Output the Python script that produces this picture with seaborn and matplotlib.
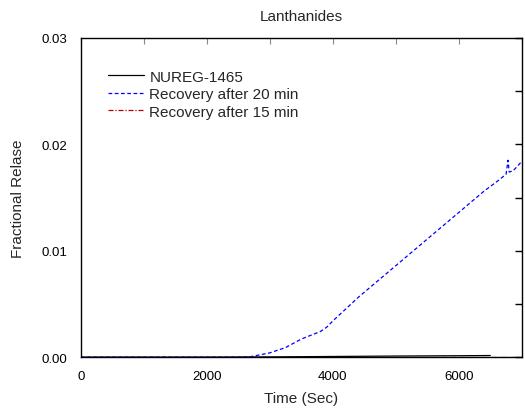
import matplotlib
matplotlib.use("Agg")
import matplotlib.pyplot as plt
import seaborn as sns
from matplotlib.ticker import MultipleLocator, FormatStrFormatter

sns.set_theme(style="white")
plt.rcParams['font.family'] = ['Liberation Sans', 'DejaVu Sans']

# Data
nureg_t = [0, 1000, 2000, 3000, 4000, 5000, 6000, 6500]
nureg_y = [0.0, 0.0, 0.0, 0.00002, 0.00006, 0.0001, 0.00013, 0.00015]

rec20_t = [0, 2500, 2700, 3000, 3250, 3500, 3800, 3900, 4000, 4400, 4800, 5200,
           5600, 6000, 6400, 6650, 6750, 6780, 6800, 6860, 7000]
rec20_y = [0.0, 0.0, 0.00005, 0.0004, 0.0009, 0.0017, 0.0024, 0.0028, 0.0034,
           0.0056, 0.0076, 0.0096, 0.0116, 0.0136, 0.0156, 0.0167, 0.0172,
           0.0185, 0.0174, 0.0175, 0.0184]

rec15_t = [0, 7000]
rec15_y = [0.0, 0.0]

fig = plt.figure(figsize=(5.25, 4.14), dpi=100)
ax = fig.add_axes([0.154, 0.135, 0.840, 0.771])

sns.lineplot(x=nureg_t, y=nureg_y, ax=ax, color="black", lw=0.9, label="NUREG-1465")
sns.lineplot(x=rec20_t, y=rec20_y, ax=ax, color="blue", lw=0.9, linestyle=(0, (3, 2)),
             label="Recovery after 20 min")
sns.lineplot(x=rec15_t, y=rec15_y, ax=ax, color="#b00000", lw=0.9,
             linestyle=(0, (4, 1.5, 1, 1.5)), label="Recovery after 15 min")

ax.set_xlim(0, 7000)
ax.set_ylim(0, 0.03)
ax.xaxis.set_major_locator(MultipleLocator(2000))
ax.xaxis.set_minor_locator(MultipleLocator(1000))
ax.yaxis.set_major_locator(MultipleLocator(0.01))
ax.yaxis.set_minor_locator(MultipleLocator(0.005))
ax.yaxis.set_major_formatter(FormatStrFormatter('%.2f'))
ax.xaxis.set_major_formatter(FormatStrFormatter('%d'))

ax.tick_params(axis='both', which='major', direction='out', labelsize=9.5, colors='black',
               length=5, width=1, pad=4.5)
ax.tick_params(axis='both', which='minor', direction='out', length=4, width=1, colors='black')
secx = ax.secondary_xaxis('top')
secx.xaxis.set_major_locator(MultipleLocator(1000))
secx.tick_params(direction='in', length=4, width=0.8, labeltop=False, colors='#888888')
secy = ax.secondary_yaxis('right')
secy.yaxis.set_major_locator(MultipleLocator(0.005))
secy.tick_params(direction='in', length=5, width=1, labelright=False, colors='black')
ax.tick_params(axis='x', which='both', top=False)
ax.tick_params(axis='y', which='both', right=False)
secx.spines['top'].set_visible(False)
secy.spines['right'].set_visible(False)

for s in ax.spines.values():
    s.set_color('black')
    s.set_linewidth(1)

ax.set_xlabel("Time (Sec)", fontsize=11, labelpad=6)
ax.set_ylabel("Fractional Relase", fontsize=11, labelpad=12)
ax.set_title("Lanthanides", fontsize=11, pad=13)

leg = ax.legend(loc='upper left', bbox_to_anchor=(0.061, 0.9), frameon=False, fontsize=11,
                handlelength=2.4, handletextpad=0.33, labelspacing=0.22, borderaxespad=0,
                borderpad=0)

fig.savefig("out.png", dpi=100)
